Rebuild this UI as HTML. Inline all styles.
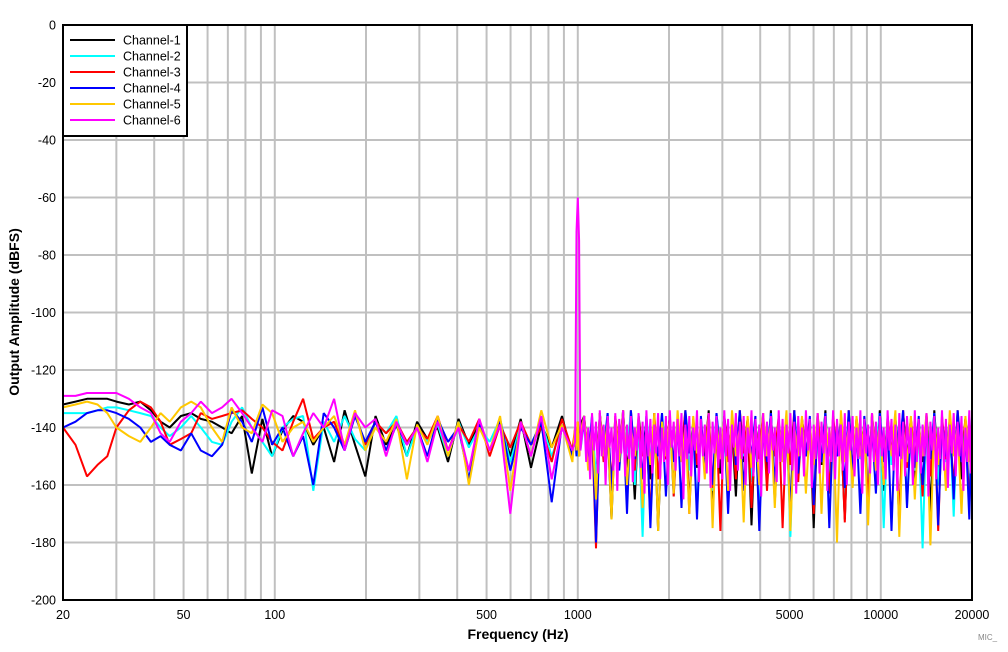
<!DOCTYPE html>
<html><head><meta charset="utf-8"><style>
body{margin:0;background:#fff;}
svg{display:block;font-family:"Liberation Sans",Arial,sans-serif;}
</style></head><body>
<svg id="chart" width="1008" height="652" viewBox="0 0 1008 652">
<g id="grid"></g>
<g id="series"></g>
<rect x="63" y="25" width="909" height="575" fill="none" stroke="#000" stroke-width="2"/>
<g id="ticks" font-size="12.5" fill="#000"></g>
<text x="518" y="639" text-anchor="middle" font-size="14" font-weight="bold">Frequency (Hz)</text>
<text transform="translate(19,312) rotate(-90)" text-anchor="middle" font-size="14" font-weight="bold">Output Amplitude (dBFS)</text>
<text x="978" y="640" font-size="8" fill="#888">MIC_</text>
<g id="legend"></g>
</svg>
<script>
const xTicks=[20,50,100,500,1000,5000,10000,20000];
const xTickLabels=["20","50","100","500","1000","5000","10000","20000"];
const xGrid=[20,30,40,50,60,70,80,90,100,200,300,400,500,600,700,800,900,1000,2000,3000,4000,5000,6000,7000,8000,9000,10000,20000];
const yTicks=[0,-20,-40,-60,-80,-100,-120,-140,-160,-180,-200];
const seriesNames=["Channel-1","Channel-2","Channel-3","Channel-4","Channel-5","Channel-6"];
const seriesColors=["#000000","#00ffff","#ff0000","#0000ff","#ffc800","#ff00ff"];
const freqs=[20,22,24,26,28,30,33,36,39,42,45,49,53,57,62,67,72,78,84,91,98,106,115,124,134,145,157,170,184,199,215,233,252,273,295,319,345,373,404,437,473,512,554,599,648,701,758,820,887,960,
980,990,1000,1010,1020,
1050,1082,1114,1148,1182,1217,1254,1292,1330,1370,1411,1454,1497,1542,1588,1636,1685,1736,1788,1841,1897,1953,2012,2072,2135,2199,2265,2333,2403,2475,2549,2625,2704,2785,2869,2955,3044,3135,3229,3326,3426,3528,3634,3743,3855,3971,4090,4213,4339,4469,4603,4741,4884,5030,5181,5337,5497,5661,5831,6006,6186,6372,6563,6760,6962,7171,7386,7608,7836,8071,8313,8563,8820,9084,9357,9637,9926,10224,10531,10846,11172,11507,11852,12208,12574,12951,13340,13740,14152,14577,15014,15464,15928,16406,16898,17405,17927,18465,19019,19590,20000];
const ch1=[-132,-131,-130,-130,-130,-131,-132,-131,-134,-138,-140,-136,-135,-137,-138,-140,-142,-136,-156,-137,-150,-141,-136,-138,-146,-140,-152,-134,-146,-157,-136,-146,-139,-150,-138,-144,-140,-152,-137,-146,-139,-148,-138,-150,-137,-154,-139,-147,-136,-150,
-142,-148,-140,-150,-139,
-136,-152,-138,-160,-135,-148,-140,-172,-137,-150,-134,-155,-141,-165,-136,-149,-138,-158,-135,-176,-139,-151,-136,-162,-140,-148,-135,-168,-137,-154,-139,-150,-134,-171,-138,-156,-136,-149,-140,-164,-135,-152,-137,-174,-139,-150,-136,-158,-134,-166,-138,-151,-140,-170,-135,-155,-137,-149,-139,-175,-136,-153,-134,-161,-138,-150,-140,-172,-135,-157,-137,-148,-139,-169,-136,-154,-134,-162,-138,-151,-140,-174,-135,-150,-137,-160,-139,-152,-136,-170,-134,-155,-138,-149,-140,-165,-135,-158,-137,-150,-139];
const ch2=[-135,-135,-135,-134,-133,-133,-134,-135,-136,-140,-143,-140,-136,-140,-145,-146,-138,-133,-140,-145,-150,-140,-137,-136,-162,-138,-145,-136,-144,-148,-138,-142,-136,-150,-140,-145,-139,-150,-138,-147,-140,-145,-137,-152,-139,-146,-138,-150,-140,-148,
-145,-140,-150,-142,-148,
-138,-150,-136,-158,-140,-147,-135,-166,-139,-152,-137,-149,-134,-160,-138,-178,-136,-151,-140,-157,-135,-150,-139,-164,-137,-148,-134,-155,-138,-170,-140,-150,-136,-162,-135,-149,-139,-168,-137,-153,-134,-150,-138,-159,-140,-172,-136,-151,-135,-163,-139,-148,-137,-178,-134,-154,-138,-150,-140,-166,-136,-152,-135,-158,-139,-149,-137,-170,-134,-156,-138,-151,-140,-163,-136,-148,-135,-175,-139,-153,-137,-150,-134,-167,-138,-155,-140,-182,-136,-150,-135,-160,-139,-152,-137,-171,-134,-149,-138,-163,-140];
const ch3=[-140,-146,-157,-153,-150,-140,-134,-131,-133,-138,-146,-144,-142,-135,-137,-136,-135,-134,-137,-140,-145,-148,-138,-130,-144,-140,-138,-147,-135,-146,-138,-142,-138,-145,-140,-144,-136,-148,-139,-145,-137,-150,-139,-147,-138,-146,-140,-152,-137,-148,
-140,-145,-138,-150,-142,
-137,-150,-140,-182,-135,-152,-138,-160,-136,-149,-139,-166,-134,-155,-137,-150,-140,-172,-135,-158,-138,-151,-136,-164,-139,-148,-134,-170,-137,-153,-140,-150,-135,-161,-138,-176,-136,-152,-139,-158,-134,-149,-137,-168,-140,-151,-135,-162,-138,-150,-136,-175,-139,-153,-134,-159,-137,-150,-140,-170,-135,-152,-138,-163,-136,-149,-139,-173,-134,-155,-137,-150,-140,-166,-135,-152,-138,-160,-136,-149,-139,-172,-134,-154,-137,-150,-140,-164,-135,-157,-138,-176,-136,-151,-139,-161,-134,-150,-137,-168,-140];
const ch4=[-140,-138,-135,-134,-134,-135,-137,-140,-145,-143,-146,-148,-142,-148,-150,-146,-134,-138,-145,-133,-146,-140,-150,-143,-160,-135,-140,-148,-136,-145,-138,-148,-139,-146,-140,-150,-137,-145,-140,-158,-139,-148,-137,-155,-140,-146,-138,-166,-139,-150,
-142,-150,-140,-148,-145,
-139,-152,-136,-180,-140,-150,-135,-162,-138,-155,-137,-170,-134,-151,-139,-158,-136,-175,-140,-150,-135,-164,-138,-152,-137,-168,-134,-149,-139,-172,-136,-155,-140,-160,-135,-150,-138,-170,-137,-153,-134,-162,-139,-150,-136,-176,-140,-152,-135,-160,-138,-149,-137,-172,-134,-156,-139,-150,-136,-167,-140,-152,-135,-175,-138,-150,-137,-161,-134,-155,-139,-170,-136,-150,-140,-163,-135,-152,-138,-176,-137,-150,-134,-168,-139,-154,-136,-160,-140,-151,-135,-174,-138,-150,-137,-165,-134,-152,-139,-172,-136];
const ch5=[-133,-132,-131,-132,-135,-140,-143,-145,-140,-135,-138,-133,-131,-133,-140,-145,-133,-140,-142,-132,-135,-145,-140,-138,-145,-140,-136,-146,-134,-148,-140,-145,-137,-158,-139,-146,-136,-150,-138,-160,-140,-148,-136,-162,-138,-150,-134,-147,-139,-152,
-140,-148,-138,-150,-142,
-136,-155,-139,-165,-135,-150,-138,-172,-137,-152,-134,-160,-140,-150,-136,-168,-139,-153,-135,-176,-138,-150,-137,-163,-134,-152,-140,-170,-136,-149,-139,-158,-135,-175,-138,-151,-137,-162,-134,-150,-140,-173,-136,-154,-139,-160,-135,-150,-138,-168,-137,-152,-134,-176,-140,-150,-136,-163,-139,-153,-135,-170,-138,-150,-137,-180,-134,-152,-140,-161,-136,-150,-139,-174,-135,-155,-138,-160,-137,-150,-134,-178,-140,-152,-136,-165,-139,-150,-135,-181,-138,-153,-137,-162,-134,-150,-140,-170,-136,-152,-139];
const ch6Low=[-129,-129,-128,-128,-128,-128,-130,-133,-135,-142,-145,-138,-135,-131,-135,-133,-130,-135,-140,-145,-134,-136,-150,-142,-135,-140,-130,-148,-135,-140,-137,-150,-138,-146,-140,-152,-138,-148,-140,-155,-137,-148,-139,-170,-138,-150,-136,-158,-140,-148,
-145,-72,-60,-75,-148];
const ch6High=[-136,-152,-140,-158,-135,-148,-138,-156,-134,-150,
-139,-160,-136,-147,-140,-155,-135,-162,-137,-149,
-134,-157,-139,-151,-136,-159,-140,-148,-135,-154,
-138,-163,-134,-150,-137,-156,-139,-149,-135,-158,
-140,-152,-136,-160,-134,-147,-138,-155,-137,-150,
-135,-165,-139,-151,-136,-157,-140,-148,-134,-159,
-137,-150,-139,-156,-135,-161,-138,-149,-136,-154,
-140,-158,-134,-150,-137,-162,-139,-147,-135,-155,
-138,-151,-136,-160,-140,-149,-134,-157,-137,-152,
-139,-164,-135,-150,-138,-156,-136,-148,-140,-159,
-134,-152,-137,-160,-139,-149,-135,-155,-138,-163,
-136,-150,-140,-157,-134,-148,-137,-161,-139,-151,
-135,-156,-138,-149,-136,-162,-140,-152,-134,-158,
-137,-150,-139,-155,-135,-160,-138,-148,-136,-157,
-140,-151,-134,-163,-137,-149,-139,-156,-135,-152,
-138,-160,-136,-150,-140,-158,-134,-148,-137,-155,
-139,-162,-135,-151,-138,-157,-136,-149,-140,-160,
-134,-152,-137,-156,-139,-150,-135,-164,-138,-148,
-136,-158,-140,-151,-134,-155,-137,-161,-139,-149,
-135,-157,-138,-150,-136,-162,-140,-152,-134,-156,
-137];

const X0=63,X1=972,Y0=25,Y1=600,FMIN=20,FMAX=20000,YMAX=0,YMIN=-200;
function xScale(f){return X0+(Math.log10(f)-Math.log10(FMIN))/(Math.log10(FMAX)-Math.log10(FMIN))*(X1-X0);}
function yScale(v){return Y0+(YMAX-v)/(YMAX-YMIN)*(Y1-Y0);}
// fine grid for channel-6 high band: original bins plus geometric midpoints
const hiFreqs=freqs.slice(ch6Low.length);
const fineFreqs=[];
hiFreqs.forEach((f,i)=>{fineFreqs.push(f);if(i<hiFreqs.length-1)fineFreqs.push(Math.sqrt(f*hiFreqs[i+1]));});
const seriesFreqs=[freqs,freqs,freqs,freqs,freqs,freqs.slice(0,ch6Low.length).concat(fineFreqs)];
const seriesData=[ch1,ch2,ch3,ch4,ch5,ch6Low.concat(ch6High)];

const NS="http://www.w3.org/2000/svg";
function mk(tag,attrs,parent){const e=document.createElementNS(NS,tag);for(const k in attrs)e.setAttribute(k,attrs[k]);parent.appendChild(e);return e;}
const grid=document.getElementById('grid'),ticks=document.getElementById('ticks'),series=document.getElementById('series'),legend=document.getElementById('legend');
xGrid.forEach(f=>{const x=xScale(f);const l=mk('line',{x1:x,x2:x,y1:Y0,y2:Y1,stroke:'#c0c0c0','stroke-width':2},grid);

});
yTicks.forEach(v=>{const y=yScale(v);const l=mk('line',{x1:X0,x2:X1,y1:y,y2:y,stroke:'#c0c0c0','stroke-width':2},grid);


const t=mk('text',{x:56,y:y+4.5,'text-anchor':'end'},ticks);t.textContent=String(v);

});
xTicks.forEach((f,i)=>{const t=mk('text',{x:xScale(f),y:619,'text-anchor':'middle'},ticks);t.textContent=xTickLabels[i];

});
seriesData.forEach((d,si)=>{const fr=seriesFreqs[si];const n=Math.min(d.length,fr.length);let p='';
for(let i=0;i<n;i++){p+=(i?'L':'M')+xScale(fr[i]).toFixed(1)+','+yScale(d[i]).toFixed(1);}
const e=mk('path',{d:p,fill:'none',stroke:seriesColors[si],'stroke-width':2,'stroke-linejoin':'bevel'},series);

});
const lb=mk('rect',{x:63,y:25,width:124,height:111,fill:'#fff',stroke:'#000','stroke-width':2},legend);


seriesNames.forEach((nm,i)=>{const y=40+i*16;const g=mk('g',{},legend);


mk('line',{x1:70,x2:115,y1:y,y2:y,stroke:seriesColors[i],'stroke-width':2},g);
const t=mk('text',{x:123,y:y+4.5,'font-size':12.5},g);t.textContent=nm;});
</script>
</body></html>
